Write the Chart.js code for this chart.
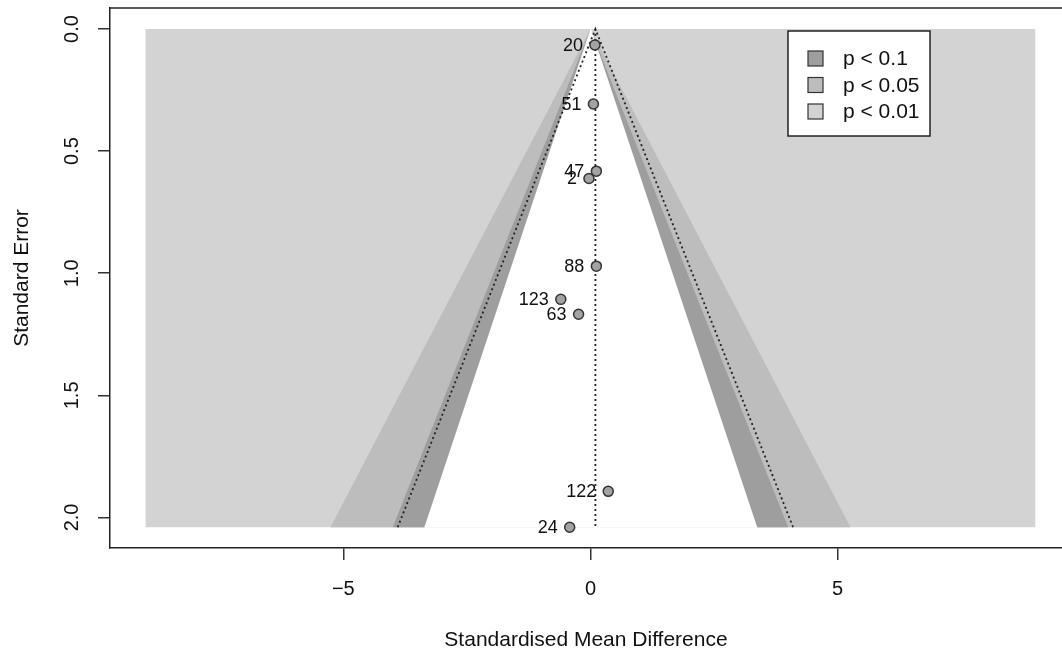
<!DOCTYPE html>
<html>
<head>
<meta charset="utf-8">
<script src="https://cdn.jsdelivr.net/npm/chart.js@4.4.1/dist/chart.umd.min.js"></script>
<style>
  html, body { margin: 0; padding: 0; background: #fff; }
  #wrap { width: 1062px; height: 652px; }
</style>
</head>
<body>
<div id="wrap"><canvas id="funnel" width="1062" height="652"></canvas></div>
<script>
// studies: id, effect size, standard error
const studyLabels = ['20', '51', '47', '2', '88', '123', '63', '122', '24'];
const smdValues   = [0.09, 0.06, 0.12, -0.03, 0.12, -0.60, -0.24, 0.36, -0.42];
const seValues    = [0.065, 0.307, 0.582, 0.612, 0.971, 1.107, 1.168, 1.893, 2.040];

// contour bands (half width at the largest SE)
const maxSE = 2.04;
const contourLabels = ['p < 0.1', 'p < 0.05', 'p < 0.01'];
const whiteHalfWidth = 3.36;
const bandHalfWidth = [4.00, 5.26];
const panelRange = [-9, 9];

// pooled estimate and pseudo confidence limits at the largest SE
const pooledEstimate = 0.1;
const pseudoLimits = [-3.9, 4.1];

const xTicks = [-5, 0, 5];
const yTicks = [0, 0.5, 1.0, 1.5, 2.0];

const bandColors = ['#9e9e9e', '#bdbdbd', '#d3d3d3'];
const inkColor = '#222';

Chart.defaults.font.family = '"Liberation Sans", Arial, Helvetica, sans-serif';
Chart.defaults.color = '#111';

function triangle(hw) {
    return [{ x: 0, y: 0 }, { x: hw, y: maxSE }, { x: -hw, y: maxSE }];
}

function polygonSet(data, color, order, edge) {
    return {
        type: 'line',
        data: data,
        backgroundColor: color,
        borderColor: color,
        borderWidth: edge || 0,
        pointRadius: 0,
        fill: 'shape',
        tension: 0,
        order: order
    };
}

const points = studyLabels.map((s, i) => ({ x: smdValues[i], y: seValues[i] }));

const datasets = [
    {
        type: 'scatter',
        data: points,
        pointRadius: 5,
        pointBackgroundColor: '#a3a3a3',
        pointBorderColor: '#333',
        pointBorderWidth: 1.5,
        order: 0
    },
    {
        type: 'line',
        data: [{ x: pseudoLimits[0], y: maxSE }, { x: pooledEstimate, y: 0 }, { x: pseudoLimits[1], y: maxSE }],
        borderColor: inkColor,
        borderWidth: 1.8,
        borderDash: [2, 3],
        pointRadius: 0,
        fill: false,
        order: 1
    },
    {
        type: 'line',
        data: [{ x: pooledEstimate, y: 0 }, { x: pooledEstimate, y: maxSE }],
        borderColor: inkColor,
        borderWidth: 1.8,
        borderDash: [2, 3],
        pointRadius: 0,
        fill: false,
        order: 2
    },
    // white edge hides the anti-aliased seam of the bands underneath
    polygonSet(triangle(whiteHalfWidth), '#ffffff', 3, 1.2),
    polygonSet(triangle(bandHalfWidth[0]), bandColors[0], 4),
    polygonSet(triangle(bandHalfWidth[1]), bandColors[1], 5),
    polygonSet([
        { x: panelRange[0], y: 0 }, { x: panelRange[1], y: 0 },
        { x: panelRange[1], y: maxSE }, { x: panelRange[0], y: maxSE }
    ], bandColors[2], 6)
];

// box top line, study labels and the legend
const funnelDecor = {
    id: 'funnelDecor',
    afterDatasetsDraw(chart) {
        const ctx = chart.ctx;
        const area = chart.chartArea;
        ctx.save();

        ctx.strokeStyle = inkColor;
        ctx.lineWidth = 1.5;
        ctx.beginPath();
        ctx.moveTo(area.left, area.top);
        ctx.lineTo(area.right, area.top);
        ctx.stroke();

        const meta = chart.getDatasetMeta(0);
        ctx.font = '18px "Liberation Sans", Arial, sans-serif';
        ctx.fillStyle = '#111';
        ctx.textAlign = 'right';
        ctx.textBaseline = 'middle';
        meta.data.forEach((el, i) => {
            ctx.fillText(studyLabels[i], el.x - 12, el.y + 1);
        });

        // legend box
        const bx = 788, by = 31, bw = 142, bh = 105;
        ctx.fillStyle = '#fff';
        ctx.fillRect(bx, by, bw, bh);
        ctx.strokeStyle = inkColor;
        ctx.lineWidth = 1.5;
        ctx.strokeRect(bx, by, bw, bh);
        ctx.font = '21px "Liberation Sans", Arial, sans-serif';
        ctx.textAlign = 'left';
        contourLabels.forEach((lab, i) => {
            const cy = 58.5 + i * 26.5;
            ctx.fillStyle = bandColors[i];
            ctx.fillRect(808, cy - 7.5, 15, 15);
            ctx.lineWidth = 1.2;
            ctx.strokeStyle = '#333';
            ctx.strokeRect(808, cy - 7.5, 15, 15);
            ctx.fillStyle = '#111';
            ctx.fillText(lab, 843, cy + 1);
        });
        ctx.restore();
    }
};

const axisGrid = { drawOnChartArea: false, drawTicks: true, tickLength: 12, color: '#333', lineWidth: 1.5 };
const axisBorder = { display: true, color: inkColor, width: 1.5 };

new Chart(document.getElementById('funnel'), {
    type: 'scatter',
    data: { datasets: datasets },
    options: {
        responsive: false,
        animation: false,
        layout: { autoPadding: false, padding: { top: 8, left: 0, right: 0, bottom: 0 } },
        plugins: {
            legend: { display: false },
            tooltip: { enabled: false }
        },
        scales: {
            x: {
                type: 'linear',
                min: -9.72,
                max: 9.54,
                afterBuildTicks: s => { s.ticks = xTicks.map(v => ({ value: v })); },
                afterFit: s => {
                    s.height = 104;
                    s.paddingLeft = 0;
                    s.paddingRight = 0;
                },
                ticks: {
                    callback: v => (v < 0 ? '\u2212' + Math.abs(v) : String(v)),
                    font: { size: 20 },
                    padding: 17,
                    autoSkip: false,
                    maxRotation: 0
                },
                grid: axisGrid,
                border: axisBorder,
                title: {
                    display: true,
                    text: 'Standardised Mean Difference',
                    font: { size: 21, lineHeight: 1 },
                    padding: { top: 0, bottom: 1.5 }
                }
            },
            y: {
                type: 'linear',
                reverse: true,
                min: -0.086,
                max: 2.125,
                afterBuildTicks: s => { s.ticks = yTicks.map(v => ({ value: v })); },
                afterFit: s => {
                    s.width = 110;
                    s.paddingTop = 0;
                    s.paddingBottom = 0;
                },
                ticks: {
                    callback: v => Number(v).toFixed(1),
                    font: { size: 20 },
                    minRotation: 90,
                    maxRotation: 90,
                    crossAlign: 'center',
                    padding: 12,
                    autoSkip: false
                },
                grid: axisGrid,
                border: axisBorder,
                title: {
                    display: true,
                    text: 'Standard Error',
                    font: { size: 21, lineHeight: 1 },
                    padding: { top: 11.5, bottom: 0 }
                }
            }
        }
    },
    plugins: [funnelDecor]
});
</script>
</body>
</html>
